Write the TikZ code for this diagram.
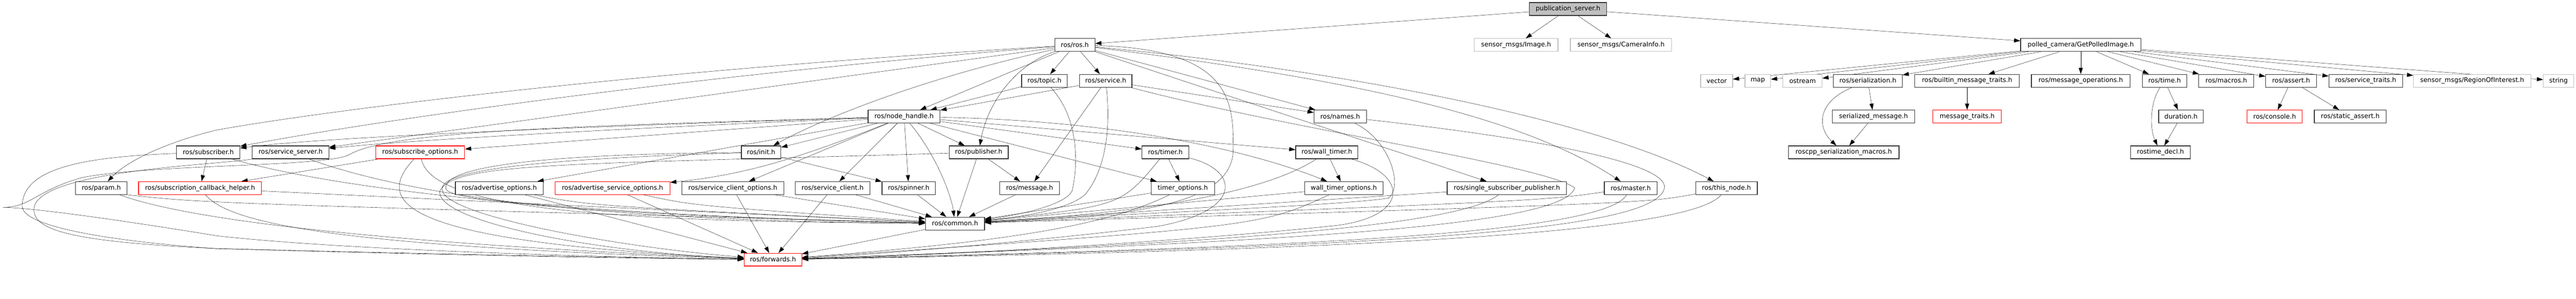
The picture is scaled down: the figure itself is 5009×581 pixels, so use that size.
\documentclass[tikz,border=0pt]{standalone}
\usepackage{fontspec}
\setmainfont{DejaVu Sans}
\usepackage{xcolor}
\usetikzlibrary{positioning, arrows.meta, backgrounds}

\definecolor{edgeblue}{HTML}{191970}
\definecolor{boxgray}{HTML}{BFBFBF}

\tikzset{
	hdr/.style={draw=black!80, fill=white, line width=1.2pt, minimum height=25pt, inner sep=0pt, font=\fontsize{12.5}{15}\selectfont},
	redhdr/.style={hdr, draw=red},
	syshdr/.style={hdr, draw=boxgray},
	mainhdr/.style={hdr, fill=boxgray},
	>={Triangle[length=12pt,width=8pt]}
}

\begin{document}
\begin{tikzpicture}[x=1pt, y=-1pt]
	\useasboundingbox (0,0) rectangle (5009,581);

	\node[mainhdr, minimum width=150] (ps) at (3049,17.5) {publication\_server.h};

	\node[hdr, minimum width=78] (ros) at (2090,87.5) {ros/ros.h};
	\node[syshdr, minimum width=163] (img) at (2948,87.5) {sensor\_msgs/Image.h};
	\node[syshdr, minimum width=197] (caminfo) at (3152,87.5) {sensor\_msgs/CameraInfo.h};
	\node[hdr, minimum width=234] (gpi) at (4046,87.5) {polled\_camera/GetPolledImage.h};

	\node[hdr, minimum width=89] (topic) at (2031,157) {ros/topic.h};
	\node[hdr, minimum width=102] (svc) at (2150,157) {ros/service.h};
	\node[syshdr, minimum width=62] (vec) at (3338,157) {vector};
	\node[syshdr, minimum width=50] (map) at (3418,157) {map};
	\node[syshdr, minimum width=76] (ostr) at (3505,157) {ostream};
	\node[hdr, minimum width=134] (ser) at (3632,157) {ros/serialization.h};
	\node[hdr, minimum width=203] (bmt) at (3825,157) {ros/builtin\_message\_traits.h};
	\node[hdr, minimum width=192] (mops) at (4046,157) {ros/message\_operations.h};
	\node[hdr, minimum width=86] (time) at (4209,157) {ros/time.h};
	\node[hdr, minimum width=107] (macros) at (4329,157) {ros/macros.h};
	\node[hdr, minimum width=99] (assert) at (4455,157) {ros/assert.h};
	\node[hdr, minimum width=143] (svctr) at (4600,157) {ros/service\_traits.h};
	\node[syshdr, minimum width=228] (roi) at (4807,157) {sensor\_msgs/RegionOfInterest.h};
	\node[syshdr, minimum width=59] (str) at (4975,157) {string};

	\node[hdr, minimum width=140] (nh) at (1758,226.5) {ros/node\_handle.h};
	\node[hdr, minimum width=102] (names) at (2606,226.5) {ros/names.h};
	\node[hdr, minimum width=161] (sermsg) at (3643,226.5) {serialized\_message.h};
	\node[redhdr, minimum width=133] (mtraits) at (3825,226.5) {message\_traits.h};
	\node[hdr, minimum width=87] (dur) at (4241,226.5) {duration.h};
	\node[redhdr, minimum width=107] (console) at (4423,226.5) {ros/console.h};
	\node[hdr, minimum width=140] (sassert) at (4570,226.5) {ros/static\_assert.h};

	\node[hdr, minimum width=123] (sub) at (405,296) {ros/subscriber.h};
	\node[hdr, minimum width=149] (srvsrv) at (565,296) {ros/service\_server.h};
	\node[redhdr, minimum width=173] (subopt) at (817,296) {ros/subscribe\_options.h};
	\node[hdr, minimum width=77] (init) at (1480,296) {ros/init.h};
	\node[hdr, minimum width=115] (pub) at (1903,296) {ros/publisher.h};
	\node[hdr, minimum width=91] (timer) at (2266,296) {ros/timer.h};
	\node[hdr, minimum width=121] (wtimer) at (2580,296) {ros/wall\_timer.h};
	\node[hdr, minimum width=215] (sermac) at (3585,296) {roscpp\_serialization\_macros.h};
	\node[hdr, minimum width=116] (tdecl) at (4201,296) {rostime\_decl.h};

	\node[hdr, minimum width=100] (param) at (197,365.5) {ros/param.h};
	\node[redhdr, minimum width=239] (sch) at (389,365.5) {ros/subscription\_callback\_helper.h};
	\node[hdr, minimum width=171] (advopt) at (971,365.5) {ros/advertise\_options.h};
	\node[redhdr, minimum width=223] (aso) at (1191,365.5) {ros/advertise\_service\_options.h};
	\node[hdr, minimum width=198] (sco) at (1425,365.5) {ros/service\_client\_options.h};
	\node[hdr, minimum width=145] (sc) at (1619,365.5) {ros/service\_client.h};
	\node[hdr, minimum width=104] (spin) at (1767,365.5) {ros/spinner.h};
	\node[hdr, minimum width=116] (msg) at (2002,365.5) {ros/message.h};
	\node[hdr, minimum width=123] (topt) at (2300,365.5) {timer\_options.h};
	\node[hdr, minimum width=152] (wtopt) at (2613,365.5) {wall\_timer\_options.h};
	\node[hdr, minimum width=232] (ssp) at (2930,365.5) {ros/single\_subscriber\_publisher.h};
	\node[hdr, minimum width=103] (master) at (3171,365.5) {ros/master.h};
	\node[hdr, minimum width=120] (thisnode) at (3357,365.5) {ros/this\_node.h};

	\node[hdr, minimum width=115] (common) at (1857,434.5) {ros/common.h};
	\node[redhdr, minimum width=112] (fwd) at (1503,504.5) {ros/forwards.h};

	\begin{scope}[on background layer, ->, color=edgeblue, line width=1.2pt]
		\draw (ps) -- (ros);
		\draw (ps) -- (img);
		\draw (ps) -- (caminfo);
		\draw (ps) -- (gpi);

		\draw (ros) -- (topic);
		\draw (ros) -- (svc);
		\draw (ros) -- (nh);
		\draw (ros) .. controls (1975,125) and (1920,200) .. (pub);
		\draw (ros) .. controls (1800,150) and (1600,230) .. (init);
		\draw (ros) .. controls (1300,150) and (700,240) .. (sub);
		\draw (ros) -- (srvsrv);
		\draw (ros) .. controls (1200,140) and (600,220) .. (420,253) .. controls (330,275) and (250,310) .. (param);
		\draw (ros) -- (names);
		\draw (ros) -- (ssp);
		\draw (ros) .. controls (2600,150) and (2950,220) .. (master);
		\draw (ros) .. controls (2600,135) and (3100,230) .. (thisnode);
		\draw (ros) .. controls (2398,95) and (2398,200) .. (2398,290) .. controls (2398,400) and (2200,420) .. (common);

		\draw (topic) -- (nh);
		\draw (topic) .. controls (2090,220) and (2100,300) .. (2085,370) .. controls (2075,395) and (2000,415) .. (common);
		\draw (svc) -- (nh);
		\draw (svc) -- (names);
		\draw (svc) -- (msg);
		\draw (svc) .. controls (2160,250) and (2150,330) .. (2110,378) .. controls (2080,405) and (2000,420) .. (common);
		\draw (svc) .. controls (2500,250) and (3000,320) .. (3062,365) .. controls (3040,440) and (2500,470) .. (fwd);

		\draw (nh) .. controls (1000,250) and (600,270) .. (sub);
		\draw (nh) .. controls (1200,250) and (800,272) .. (srvsrv);
		\draw (nh) -- (subopt);
		\draw (nh) -- (advopt);
		\draw (nh) .. controls (1560,305) and (1450,340) .. (aso);
		\draw (nh) -- (sco);
		\draw (nh) -- (sc);
		\draw (nh) -- (init);
		\draw (nh) -- (spin);
		\draw (nh) -- (pub);
		\draw (nh) .. controls (1820,300) and (1850,380) .. (common);
		\draw (nh) -- (timer);
		\draw (nh) -- (topt);
		\draw (nh) -- (wtimer);
		\draw (nh) .. controls (2200,235) and (2450,300) .. (wtopt);
		\draw (nh) .. controls (1100,245) and (760,255) .. (680,300) .. controls (640,325) and (300,318) .. (160,345) .. controls (70,370) and (60,403) .. (5,403) .. controls (60,403) and (250,430) .. (420,458) .. controls (700,490) and (1300,502) .. (fwd);

		\draw (sub) -- (sch);
		\draw (sub) .. controls (700,380) and (1200,420) .. (common);
		\draw (sub) .. controls (150,305) and (45,330) .. (43,400) .. controls (42,450) and (300,475) .. (420,483) .. controls (900,495) and (1300,502) .. (fwd);
		\draw (srvsrv) .. controls (850,400) and (1300,430) .. (common);
		\draw (srvsrv.south west) .. controls (430,320) and (90,330) .. (67,400) .. controls (55,450) and (150,470) .. (420,483) .. controls (900,497) and (1300,503) .. (fwd);
		\draw (subopt) -- (sch);
		\draw (subopt) .. controls (840,420) and (1300,430) .. (common);
		\draw (subopt) .. controls (730,390) and (760,470) .. (fwd);
		\draw (param) .. controls (400,440) and (900,480) .. (fwd);
		\draw (param.south east) .. controls (400,395) .. (common);
		\draw (sch) .. controls (450,440) and (700,480) .. (fwd);
		\draw (sch) -- (common);
		\draw (advopt) .. controls (1150,400) .. (common);
		\draw (advopt) -- (fwd);
		\draw (aso) .. controls (1350,400) .. (common);
		\draw (aso) -- (fwd);
		\draw (sco) -- (common);
		\draw (sco) -- (fwd);
		\draw (sc) -- (common);
		\draw (sc) -- (fwd);

		\draw (init) -- (spin);
		\draw (init) .. controls (1000,300) and (860,330) .. (867,367) .. controls (875,400) and (1400,425) .. (common);
		\draw (init) .. controls (1000,310) and (850,335) .. (860,370) .. controls (870,420) and (1200,480) .. (fwd);
		\draw (pub) .. controls (1100,320) and (880,315) .. (855,372) .. controls (850,430) and (1150,490) .. (fwd);
		\draw (pub) -- (common);
		\draw (pub) -- (msg);
		\draw (spin) -- (common);
		\draw (msg) -- (common);

		\draw (timer) -- (topt);
		\draw (timer) .. controls (2180,400) .. (common);
		\draw (timer) .. controls (2410,330) and (2420,410) .. (2250,440) .. controls (2000,470) and (1700,495) .. (fwd);
		\draw (topt) -- (common);
		\draw (topt) .. controls (2150,440) and (1950,470) .. (fwd);
		\draw (wtimer) -- (wtopt);
		\draw (wtimer) .. controls (2450,380) and (2200,415) .. (common);
		\draw (wtimer) .. controls (2740,340) and (2740,420) .. (2600,438) .. controls (2300,470) and (1800,498) .. (fwd);
		\draw (wtopt) -- (common);
		\draw (wtopt) .. controls (2450,440) .. (fwd);

		\draw (names) .. controls (2700,270) and (2730,360) .. (2700,385) .. controls (2600,400) and (2200,415) .. (common);
		\draw (names) .. controls (3000,270) and (3260,320) .. (3235,370) .. controls (3200,450) and (2700,480) .. (fwd);
		\draw (ssp) -- (common);
		\draw (ssp) .. controls (2850,430) and (2500,470) .. (fwd);
		\draw (master) .. controls (3000,390) .. (common);
		\draw (master) .. controls (3120,450) and (2600,480) .. (fwd);
		\draw (thisnode) .. controls (3200,395) .. (common);
		\draw (thisnode) .. controls (3290,450) and (2700,485) .. (fwd);
		\draw (common) -- (fwd);

		\draw (gpi) -- (vec);
		\draw (gpi) -- (map);
		\draw (gpi) -- (ostr);
		\draw (gpi) -- (ser);
		\draw (gpi) -- (bmt);
		\draw (gpi) -- (mops);
		\draw (gpi) -- (time);
		\draw (gpi) -- (macros);
		\draw (gpi) -- (assert);
		\draw (gpi) -- (svctr);
		\draw (gpi) -- (roi);
		\draw (gpi) -- (str);
		\draw (ser) -- (sermsg);
		\draw (ser) .. controls (3530,200) and (3535,250) .. (sermac);
		\draw (sermsg) -- (sermac);
		\draw (bmt) -- (mtraits);
		\draw (time) -- (dur);
		\draw (time) .. controls (4180,200) and (4180,250) .. (tdecl);
		\draw (dur) -- (tdecl);
		\draw (assert) -- (console);
		\draw (assert) -- (sassert);
	\end{scope}
\end{tikzpicture}
\end{document}
